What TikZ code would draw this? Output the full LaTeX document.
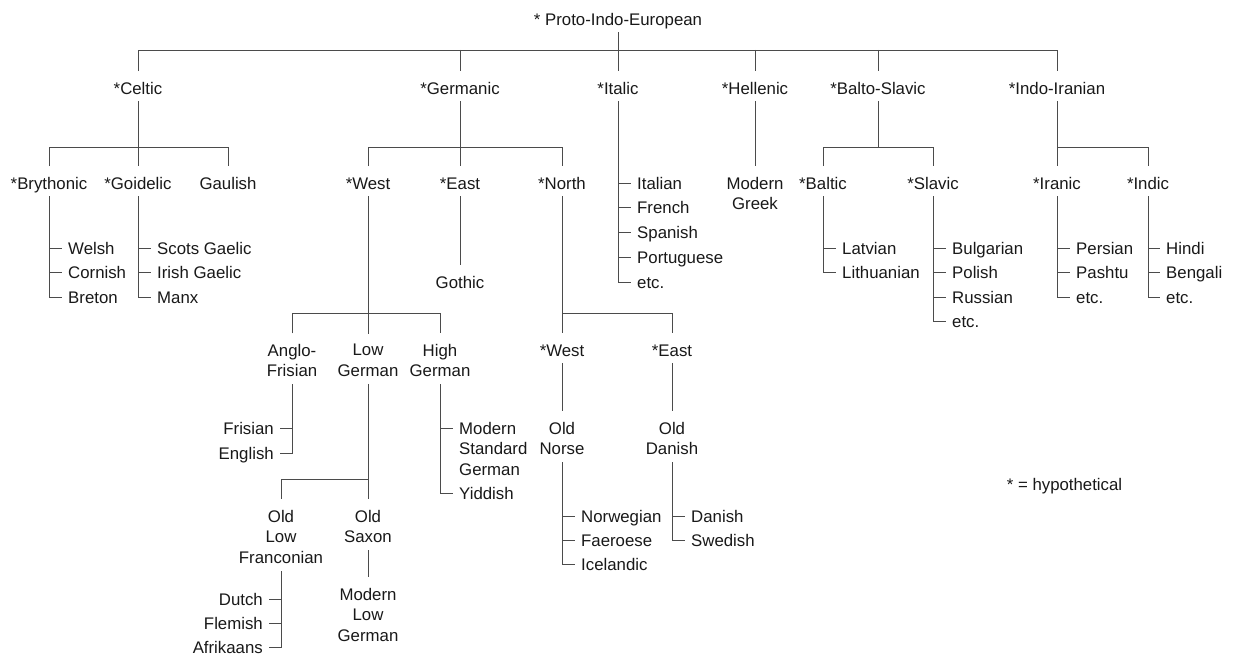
\documentclass[tikz,border=0pt]{standalone}
\usepackage{fontspec}
\setmainfont{Liberation Sans}
\newcommand\treefnt{\fontsize{16.8}{20.5}\selectfont}
\definecolor{ln}{RGB}{75,75,75}
\definecolor{txt}{RGB}{25,25,25}
\begin{document}
\begin{tikzpicture}[x=1pt,y=-1pt,
  lbl/.style={inner sep=0pt,text height=12.2pt,text depth=0pt,font=\treefnt,text=txt},
  ml/.style={inner sep=0pt,align=center,font=\treefnt,text=txt},
  itm/.style={lbl,anchor=west},
  litm/.style={lbl,anchor=east},
  tree/.style={draw=ln,line width=0.9pt},
  dn/.style={shorten <=7pt},
  up/.style={shorten >=10.5pt},
  upb/.style={shorten <=10.5pt}]
\fill[white] (0,0) rectangle (1233,655);
\useasboundingbox (0,0) rectangle (1233,655);

% ---------- nodes ----------
\node[lbl] (pie) at (618,19) {* Proto-Indo-European};

\node[lbl] (celtic)   at (138,88) {*Celtic};
\node[lbl] (germanic) at (460,88) {*Germanic};
\node[lbl] (italic)   at (618,88) {*Italic};
\node[lbl] (hellenic) at (755,88) {*Hellenic};
\node[lbl] (balto)    at (878,88) {*Balto-Slavic};
\node[lbl] (indoir)   at (1057,88) {*Indo-Iranian};

% Celtic
\node[lbl] (bry) at (49,183) {*Brythonic};
\node[lbl] (goi) at (138,183) {*Goidelic};
\node[lbl] (gau) at (228,183) {Gaulish};
\node[itm] (welsh)   at (68,248) {Welsh};
\node[itm] (cornish) at (68,272.5) {Cornish};
\node[itm] (breton)  at (68,297) {Breton};
\node[itm] (scots)   at (157,248) {Scots Gaelic};
\node[itm] (irish)   at (157,272.5) {Irish Gaelic};
\node[itm] (manx)    at (157,297) {Manx};

% Germanic
\node[lbl] (gwest)  at (368,183) {*West};
\node[lbl] (geast)  at (460,183) {*East};
\node[lbl] (gnorth) at (562,183) {*North};
\node[lbl] (gothic) at (460,282) {Gothic};

\node[ml] (anglofris) at (292,360.5) {Anglo-\\Frisian};
\node[ml] (lowger)    at (368,360.5) {Low\\German};
\node[ml] (highger)   at (440,360.5) {High\\German};
\node[litm] (frisian) at (274,428) {Frisian};
\node[litm] (english) at (274,453) {English};
\node[ml,align=left,anchor=north west] (msg) at (459,421.9) {Modern\\Standard\\German};
\coordinate (msgt) at ([yshift=-6.1pt]msg.north west);
\node[itm] (yiddish) at (459,493) {Yiddish};

\node[ml] (olf)  at (281,536.5) {Old\\Low\\Franconian};
\node[ml] (osax) at (368,526.5) {Old\\Saxon};
\node[ml] (mlg)  at (368,614.5) {Modern\\Low\\German};
\node[litm] (dutch)     at (263,599) {Dutch};
\node[litm] (flemish)   at (263,623) {Flemish};
\node[litm] (afrikaans) at (263,647) {Afrikaans};

\node[lbl] (nwest) at (562,350) {*West};
\node[lbl] (neast) at (672,350) {*East};
\node[ml] (onorse)  at (562,438.5) {Old\\Norse};
\node[ml] (odanish) at (672,438.5) {Old\\Danish};
\node[itm] (norwegian) at (581,516) {Norwegian};
\node[itm] (faeroese)  at (581,540) {Faeroese};
\node[itm] (icelandic) at (581,564) {Icelandic};
\node[itm] (danish)  at (691,516) {Danish};
\node[itm] (swedish) at (691,540) {Swedish};

% Italic
\node[itm] (italian)    at (637,183) {Italian};
\node[itm] (french)     at (637,207.75) {French};
\node[itm] (spanish)    at (637,232.5) {Spanish};
\node[itm] (portuguese) at (637,257.25) {Portuguese};
\node[itm] (ietc)       at (637,282) {etc.};

% Hellenic
\node[ml] (mgreek) at (755,193.5) {Modern\\Greek};

% Balto-Slavic
\node[lbl] (baltic) at (823,183) {*Baltic};
\node[lbl] (slavic) at (933,183) {*Slavic};
\node[itm] (latvian)    at (842,248) {Latvian};
\node[itm] (lithuanian) at (842,272.5) {Lithuanian};
\node[itm] (bulgarian)  at (952,248) {Bulgarian};
\node[itm] (polish)     at (952,272.5) {Polish};
\node[itm] (russian)    at (952,297) {Russian};
\node[itm] (setc)       at (952,321.5) {etc.};

% Indo-Iranian
\node[lbl] (iranic) at (1057,183) {*Iranic};
\node[lbl] (indic)  at (1148,183) {*Indic};
\node[itm] (persian) at (1076,248) {Persian};
\node[itm] (pashtu)  at (1076,272.5) {Pashtu};
\node[itm] (iretc)   at (1076,297) {etc.};
\node[itm] (hindi)   at (1166,248) {Hindi};
\node[itm] (bengali) at (1166,272.5) {Bengali};
\node[itm] (inetc)   at (1166,297) {etc.};

\node[lbl] (hyp) at (1064.5,484) {* = hypothetical};

% ---------- connectors ----------
\coordinate (b0) at (618,50);
\draw[tree,dn] (pie.south) -- (b0);
\draw[tree,upb,up] (celtic.north) -- (celtic.north |- b0) -- (indoir.north |- b0) -- (indoir.north);
\foreach \n in {germanic,italic,hellenic,balto} \draw[tree,up] (\n.north |- b0) -- (\n.north);

% Celtic
\coordinate (b1) at (138,147);
\draw[tree,dn] (celtic.south) -- (b1);
\draw[tree,upb,up] (bry.north) -- (bry.north |- b1) -- (gau.north |- b1) -- (gau.north);
\draw[tree,up] (b1) -- (goi.north);
\draw[tree,dn] (bry.south) |- ([xshift=-6pt]breton.west);
\foreach \n in {welsh,cornish} \draw[tree] (bry.south |- \n.west) -- ([xshift=-6pt]\n.west);
\draw[tree,dn] (goi.south) |- ([xshift=-6pt]manx.west);
\foreach \n in {scots,irish} \draw[tree] (goi.south |- \n.west) -- ([xshift=-6pt]\n.west);

% Germanic
\coordinate (b2) at (460,147);
\draw[tree,dn] (germanic.south) -- (b2);
\draw[tree,upb,up] (gwest.north) -- (gwest.north |- b2) -- (gnorth.north |- b2) -- (gnorth.north);
\draw[tree,up] (b2) -- (geast.north);
\draw[tree,dn,up] (geast.south) -- (gothic.north);

\coordinate (b3) at (368,313);
\draw[tree,dn] (gwest.south) -- (b3);
\draw[tree,upb,up] (anglofris.north) -- (anglofris.north |- b3) -- (highger.north |- b3) -- (highger.north);
\draw[tree,up] (b3) -- (lowger.north);

\draw[tree,dn] (anglofris.south) |- ([xshift=6pt]english.east);
\draw[tree] (anglofris.south |- frisian.east) -- ([xshift=6pt]frisian.east);

\coordinate (b4) at (368,479);
\draw[tree,dn,up] (lowger.south) -- (osax.north);
\draw[tree,up] (osax.north |- b4) -- (olf.north |- b4) -- (olf.north);
\draw[tree,shorten <=8pt] (olf.south) |- ([xshift=6pt]afrikaans.east);
\foreach \n in {dutch,flemish} \draw[tree] (olf.south |- \n.east) -- ([xshift=6pt]\n.east);
\draw[tree,dn,up] (osax.south) -- (mlg.north);

\draw[tree,dn] (highger.south) |- ([xshift=-6pt]yiddish.west);
\draw[tree] (highger.south |- msgt) -- ([xshift=-6pt]msgt);

\coordinate (b5) at (562,313);
\draw[tree,dn,up] (gnorth.south) -- (nwest.north);
\draw[tree,up] (b5) -- (neast.north |- b5) -- (neast.north);
\draw[tree,dn,up] (nwest.south) -- (onorse.north);
\draw[tree,dn,up] (neast.south) -- (odanish.north);
\draw[tree,dn] (onorse.south) |- ([xshift=-6pt]icelandic.west);
\foreach \n in {norwegian,faeroese} \draw[tree] (onorse.south |- \n.west) -- ([xshift=-6pt]\n.west);
\draw[tree,dn] (odanish.south) |- ([xshift=-6pt]swedish.west);
\draw[tree] (odanish.south |- danish.west) -- ([xshift=-6pt]danish.west);

% Italic
\draw[tree,dn] (italic.south) |- ([xshift=-6pt]ietc.west);
\foreach \n in {italian,french,spanish,portuguese} \draw[tree] (italic.south |- \n.west) -- ([xshift=-6pt]\n.west);

% Hellenic
\draw[tree,dn,up] (hellenic.south) -- (mgreek.north);

% Balto-Slavic
\coordinate (b6) at (878,147);
\draw[tree,dn] (balto.south) -- (b6);
\draw[tree,upb,up] (baltic.north) -- (baltic.north |- b6) -- (slavic.north |- b6) -- (slavic.north);
\draw[tree,dn] (baltic.south) |- ([xshift=-6pt]lithuanian.west);
\draw[tree] (baltic.south |- latvian.west) -- ([xshift=-6pt]latvian.west);
\draw[tree,dn] (slavic.south) |- ([xshift=-6pt]setc.west);
\foreach \n in {bulgarian,polish,russian} \draw[tree] (slavic.south |- \n.west) -- ([xshift=-6pt]\n.west);

% Indo-Iranian
\coordinate (b7) at (1057,147);
\draw[tree,dn,up] (indoir.south) -- (iranic.north);
\draw[tree,up] (b7) -- (indic.north |- b7) -- (indic.north);
\draw[tree,dn] (iranic.south) |- ([xshift=-6pt]iretc.west);
\foreach \n in {persian,pashtu} \draw[tree] (iranic.south |- \n.west) -- ([xshift=-6pt]\n.west);
\draw[tree,dn] (indic.south) |- ([xshift=-6pt]inetc.west);
\foreach \n in {hindi,bengali} \draw[tree] (indic.south |- \n.west) -- ([xshift=-6pt]\n.west);
\end{tikzpicture}
\end{document}
